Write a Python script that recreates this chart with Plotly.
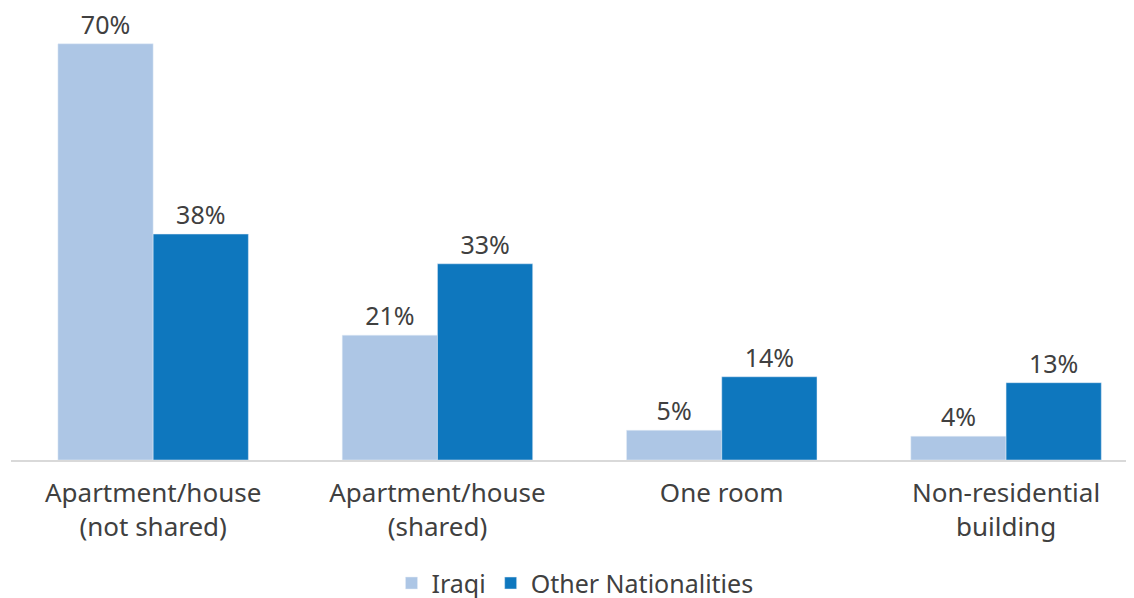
import plotly.graph_objects as go

categories = ["Apartment/house<br>(not shared)", "Apartment/house<br>(shared)",
              "One room", "Non-residential<br>building"]
iraqi = [70, 21, 5, 4]
other = [38, 33, 14, 13]

font_name = "Noto Sans"
grey = "#404040"

fig = go.Figure()
fig.add_trace(go.Bar(x=categories, y=iraqi, name="Iraqi", marker_color="#adc6e5",
                     text=[f"{v}%" for v in iraqi], textposition="outside",
                     textfont=dict(size=25, color=grey, family=font_name), cliponaxis=False))
fig.add_trace(go.Bar(x=categories, y=other, name="Other Nationalities", marker_color="#0e77be",
                     text=[f"{v}%" for v in other], textposition="outside",
                     textfont=dict(size=25, color=grey, family=font_name), cliponaxis=False))

# the page body adds an 8px offset, so margins are shifted to compensate
fig.update_layout(
    width=1134, height=598,
    barmode="group", bargap=0.33, bargroupgap=0,
    plot_bgcolor="white", paper_bgcolor="white",
    margin=dict(l=3, r=8, t=12, b=146, autoexpand=False),
    font=dict(family=font_name, size=26, color=grey),
    showlegend=True,
    legend=dict(orientation="h", x=0.5, xanchor="center", xref="container",
                y=0.038, yanchor="middle", yref="container",
                font=dict(size=25, color=grey), itemwidth=30, traceorder="normal"),
)
fig.update_xaxes(range=[-0.5, 3.45], showline=True, linecolor="#d9d9d9", linewidth=2,
                 ticks="", tickfont=dict(size=26, color=grey), automargin=False,
                 ticklabelstandoff=9)
fig.update_yaxes(range=[0, 74], visible=False, showgrid=False, automargin=False)

fig.write_html("out.html")
